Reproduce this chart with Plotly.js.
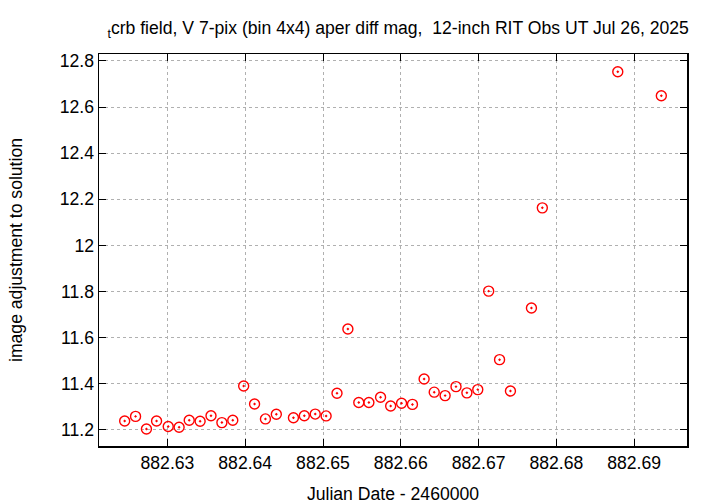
<!DOCTYPE html>
<html>
<head>
<meta charset="utf-8">
<script src="https://cdn.plot.ly/plotly-3.0.1.min.js"></script>
<style>html,body{margin:0;padding:0;background:#fff}#chart{width:720px;height:504px}</style>
</head>
<body>
<div id="chart"></div>
<script>
const jd = [882.6245, 882.6259, 882.6273, 882.6286, 882.6301, 882.6315, 882.6328, 882.6342, 882.6356, 882.6370,
            882.6384, 882.6398, 882.6412, 882.6426, 882.6440, 882.6462, 882.6476, 882.6490, 882.6504, 882.6518,
            882.6532, 882.6546, 882.6559, 882.6574, 882.6587, 882.6601, 882.6615, 882.6630, 882.6643, 882.6657,
            882.6671, 882.6685, 882.6699, 882.6713, 882.6727, 882.6741, 882.6768, 882.6782, 882.6879, 882.6935];
const mag = [11.239, 11.259, 11.204, 11.239, 11.215, 11.212, 11.242, 11.238, 11.262, 11.232,
             11.242, 11.391, 11.313, 11.248, 11.268, 11.253, 11.262, 11.269, 11.261, 11.359,
             11.638, 11.319, 11.319, 11.342, 11.304, 11.316, 11.311, 11.421, 11.364, 11.349,
             11.388, 11.361, 11.375, 11.802, 11.505, 11.369, 11.729, 12.163, 12.753, 12.649];
const xTicks = [882.63, 882.64, 882.65, 882.66, 882.67, 882.68, 882.69];
const xTickText = ['882.63', '882.64', '882.65', '882.66', '882.67', '882.68', '882.69'];
const yTicks = [11.2, 11.4, 11.6, 11.8, 12.0, 12.2, 12.4, 12.6, 12.8];
const yTickText = ['11.2', '11.4', '11.6', '11.8', '12', '12.2', '12.4', '12.6', '12.8'];

const font = 'Liberation Sans, Arial, sans-serif';
const fs = 17.6;
const trace = {
  x: jd, y: mag, type: 'scatter', mode: 'markers',
  marker: {symbol: 'circle-open-dot', size: 10, color: '#ff0000', line: {color: '#ff0000', width: 1.4}},
  hoverinfo: 'x+y'
};
const axisCommon = {
  showline: true, mirror: 'ticks', linecolor: '#000', linewidth: 1.5,
  ticks: 'inside', ticklen: 7, tickcolor: '#000', tickwidth: 1,
  showgrid: true, gridcolor: '#b0b0b0', griddash: 'dot', gridwidth: 1,
  zeroline: false, tickfont: {family: font, size: fs, color: '#000'}
};
const layout = {
  width: 720, height: 504,
  margin: {l: 99, r: 33, t: 54, b: 58},
  paper_bgcolor: '#fff', plot_bgcolor: '#fff',
  showlegend: false,
  title: {text: '<sub>t</sub>crb field, V 7-pix (bin 4x4) aper diff mag,  12-inch RIT Obs UT Jul 26, 2025',
          font: {family: font, size: fs, color: '#000'}, x: 0.553, xanchor: 'center', y: 0.944, yanchor: 'middle'},
  xaxis: Object.assign({}, axisCommon, {
    range: [882.6212, 882.6968], tickvals: xTicks, ticktext: xTickText,
    title: {text: 'Julian Date - 2460000', font: {family: font, size: fs, color: '#000'}, standoff: 16}
  }),
  yaxis: Object.assign({}, axisCommon, {
    range: [11.1306, 12.830], tickvals: yTicks, ticktext: yTickText,
    title: {text: 'image adjustment to solution', font: {family: font, size: fs, color: '#000'}, standoff: 32}
  })
};
Plotly.newPlot('chart', [trace], layout, {displayModeBar: false, staticPlot: true});
</script>
</body>
</html>
